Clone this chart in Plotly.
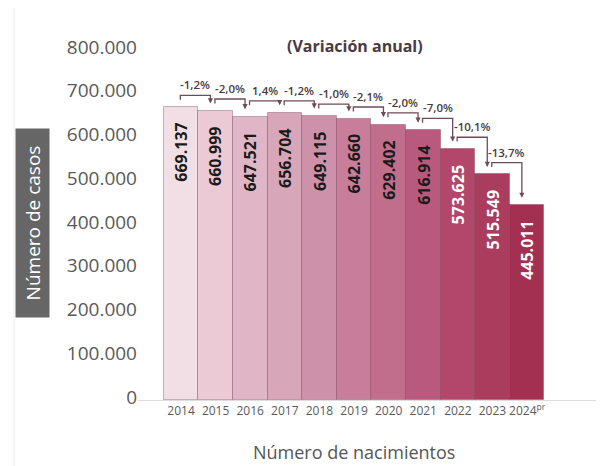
import plotly.graph_objects as go

years = ["2014", "2015", "2016", "2017", "2018", "2019", "2020", "2021", "2022", "2023", "2024<sup>pr</sup>"]
values = [669137, 660999, 647521, 656704, 649115, 642660, 629402, 616914, 573625, 515549, 445011]
value_labels = ["669.137", "660.999", "647.521", "656.704", "649.115", "642.660",
                "629.402", "616.914", "573.625", "515.549", "445.011"]
changes = ["-1,2%", "-2,0%", "1,4%", "-1,2%", "-1,0%", "-2,1%", "-2,0%", "-7,0%", "-10,1%", "-13,7%"]
colors = ["#f2dfe5", "#ebc9d5", "#e0b6c6", "#d8a6b9", "#cd91a9", "#c87e9b",
          "#c06e8c", "#b8597d", "#b2476b", "#aa3c5e", "#a33051"]
text_colors = ["#1a1a1a"] * 8 + ["#ffffff"] * 3
y_ticks = [0, 100000, 200000, 300000, 400000, 500000, 600000, 700000, 800000]

idx = list(range(len(years)))
FONT = "Open Sans"
BR = "#6e4b58"

# page body has an 8px margin; plot area in page coords: x 138..598, y 50..400
OFF = 8
PL, PT, PW, PH = 138 - OFF, 50 - OFF, 460, 350


def pxx(x):
    return (x - 138) / PW


def pxy(y):
    return (400 - y) / PH


fig = go.Figure()
fig.add_trace(go.Bar(
    x=idx, y=values, width=1,
    marker=dict(color=colors, line=dict(color="rgba(110,50,70,0.35)", width=1)),
    hoverinfo="skip",
))

annotations = []
shapes = []

# value labels inside bars
for i, v in enumerate(values):
    annotations.append(dict(
        x=i, y=v, xref="x", yref="y", text=value_labels[i], showarrow=False,
        textangle=-90, yanchor="top", xanchor="center", yshift=-14,
        font=dict(family=FONT, size=16, color=text_colors[i], weight="bold"),
    ))

# brackets with change labels
for i, ch in enumerate(changes):
    a, b = values[i], values[i + 1]
    h = max(a, b) + 27000
    xl = i - 0.02
    xr = i + 0.85
    shapes.append(dict(type="path", xref="x", yref="y",
                       path=f"M {xl},{h - 10000} L {xl},{h} L {xr},{h} L {xr},{b + 24000}",
                       line=dict(color=BR, width=1.3)))
    annotations.append(dict(x=xr, y=b + 17000, ax=xr, ay=b + 26000, xref="x", yref="y",
                            axref="x", ayref="y", text="", showarrow=True,
                            arrowhead=2, arrowsize=0.8, arrowwidth=1.3, arrowcolor=BR))
    annotations.append(dict(x=(xl + xr) / 2, y=h, xref="x", yref="y", text=ch,
                            showarrow=False, yanchor="bottom", xanchor="center", yshift=1,
                            font=dict(family=FONT, size=11.5, color="#4a3a40", weight=600)))

# y-axis title box
annotations.append(dict(x=pxx(32), y=pxy(223), xref="paper", yref="paper",
                        xanchor="center", yanchor="middle",
                        text="Número de casos", showarrow=False, textangle=-90,
                        bgcolor="#666666", width=186, height=31,
                        font=dict(family=FONT, size=19, color="#ffffff")))
# chart subtitle
annotations.append(dict(x=pxx(355), y=pxy(46), xref="paper", yref="paper",
                        xanchor="center", yanchor="middle",
                        text="(Variación anual)", showarrow=False,
                        font=dict(family=FONT, size=16, color="#4a3a40", weight="bold")))
# x-axis title
annotations.append(dict(x=pxx(354), y=pxy(452), xref="paper", yref="paper",
                        xanchor="center", yanchor="middle",
                        text="Número de nacimientos", showarrow=False,
                        font=dict(family=FONT, size=18, color="#555555")))

shapes.append(dict(type="line", xref="paper", yref="paper",
                   x0=pxx(14), x1=pxx(14), y0=pxy(470), y1=pxy(0),
                   line=dict(color="#ececec", width=1)))

fig.update_layout(
    width=604, height=466,
    margin=dict(l=PL, r=604 - PL - PW, t=PT, b=466 - PT - PH, autoexpand=False),
    paper_bgcolor="white", plot_bgcolor="white",
    separators=",.",
    showlegend=False,
    bargap=0,
    xaxis=dict(range=[-1.243, 12.05], tickvals=idx, ticktext=years, showgrid=False,
               zeroline=False, showline=True, linecolor="#dddddd", linewidth=1,
               tickfont=dict(family=FONT, size=12, color="#5a5a5a"), ticks=""),
    yaxis=dict(range=[0, 800000], tickvals=y_ticks, tickformat=",d", showgrid=False,
               zeroline=False, showline=False, ticks="", ticklabelshift=-3,
               tickfont=dict(family=FONT, size=19, color="#595959")),
    annotations=annotations,
    shapes=shapes,
)

fig.write_html("out.html")
